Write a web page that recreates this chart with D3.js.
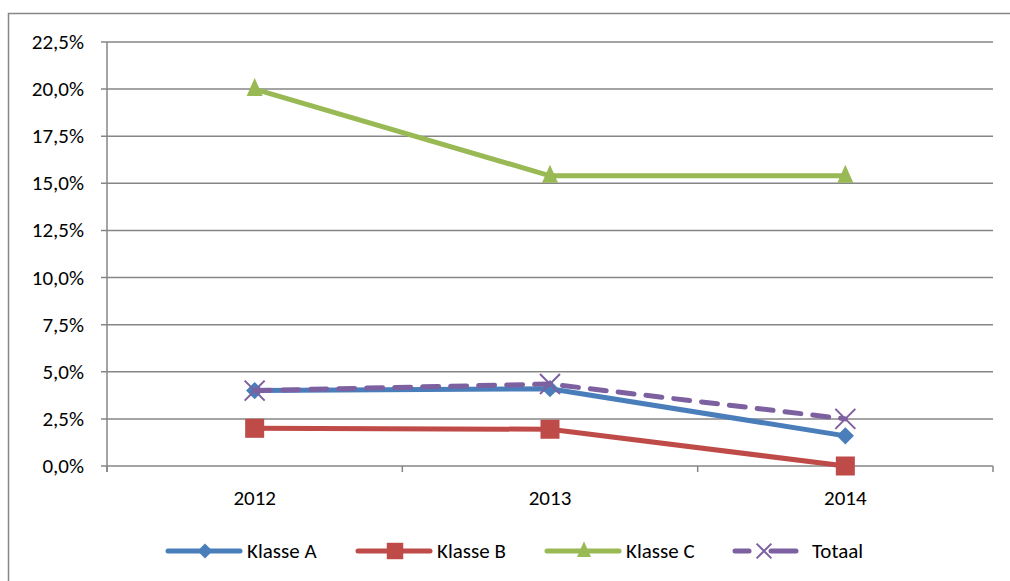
<!DOCTYPE html>
<meta charset="utf-8">
<html>
<head>
<script src="https://cdn.jsdelivr.net/npm/d3@7"></script>
<style>
    body { margin: 0; background: #fff; }
    svg { font-family: Carlito, Calibri, Lato, sans-serif; }
</style>
</head>
<body>
<svg id="chart"></svg>
<script>

var years = ["2012", "2013", "2014"]
var seriesNames = ["Klasse A", "Klasse B", "Klasse C", "Totaal"]
var klasseA = [4.0, 4.1, 1.6]
var klasseB = [2.0, 1.95, 0.0]
var klasseC = [20.0, 15.4, 15.4]
var totaal = [4.0, 4.35, 2.5]
var yTicks = [0, 2.5, 5, 7.5, 10, 12.5, 15, 17.5, 20, 22.5]

var width = 1010
var height = 581
var svg = d3.select("#chart").attr("width", width).attr("height", height)

// outer frame (runs off right and bottom)
svg.append("rect")
    .attr("x", 8.5).attr("y", 13.5)
    .attr("width", 1010).attr("height", 600)
    .attr("fill", "none").attr("stroke", "#868686").attr("stroke-width", 1.5)

var plotLeft = 107, plotRight = 993, plotTop = 42, plotBottom = 466
var fontSize = "21px"

var x = d3.scaleBand().domain(years).range([plotLeft, plotRight])
var y = d3.scaleLinear().domain([0, 22.5]).range([plotBottom, plotTop])
var fmt = d => d3.format(".1f")(d).replace(".", ",") + "%"

// gridlines
svg.append("g")
    .selectAll("line")
    .data(yTicks)
    .enter()
    .append("line")
    .attr("x1", plotLeft - 6).attr("x2", plotRight)
    .attr("y1", d => y(d)).attr("y2", d => y(d))
    .attr("stroke", "#868686").attr("stroke-width", 1.5)

// y labels
svg.append("g")
    .selectAll("text")
    .data(yTicks)
    .enter()
    .append("text")
    .attr("x", plotLeft - 23)
    .attr("y", d => y(d) + 7)
    .attr("text-anchor", "end")
    .attr("font-size", fontSize)
    .attr("fill", "#000")
    .text(fmt)

// axis lines
svg.append("line")
    .attr("x1", plotLeft).attr("x2", plotLeft).attr("y1", plotTop).attr("y2", plotBottom + 6)
    .attr("stroke", "#868686").attr("stroke-width", 1.5)

var xTickPos = years.map(d => x(d)).concat([plotRight])
svg.append("g")
    .selectAll("line")
    .data(xTickPos)
    .enter()
    .append("line")
    .attr("x1", d => d).attr("x2", d => d)
    .attr("y1", plotBottom).attr("y2", plotBottom + 6)
    .attr("stroke", "#868686").attr("stroke-width", 1.5)

svg.append("g")
    .selectAll("text")
    .data(years)
    .enter()
    .append("text")
    .attr("x", d => x(d) + x.bandwidth() / 2)
    .attr("y", plotBottom + 39)
    .attr("text-anchor", "middle")
    .attr("font-size", fontSize)
    .text(d => d)

var series = [
    {name: seriesNames[0], values: klasseA, color: "#4a7ebb", marker: "diamond", dash: null},
    {name: seriesNames[1], values: klasseB, color: "#be4b48", marker: "square", dash: null},
    {name: seriesNames[2], values: klasseC, color: "#98b954", marker: "triangle", dash: null},
    {name: seriesNames[3], values: totaal, color: "#7d60a0", marker: "x", dash: "16,12"}
]

function drawMarker(g, kind, cx, cy, color, scale) {
    scale = scale || 1
    if (kind == "diamond") {
        g.append("path")
            .attr("d", d3.symbol().type(d3.symbolDiamond2).size(190 * scale)())
            .attr("transform", "translate(" + cx + "," + cy + ")")
            .attr("fill", color)
    } else if (kind == "square") {
        var s = 19 * Math.sqrt(scale)
        g.append("rect")
            .attr("x", cx - s / 2).attr("y", cy - s / 2)
            .attr("width", s).attr("height", s)
            .attr("fill", color)
    } else if (kind == "triangle") {
        var h = 18 * Math.sqrt(scale), w = 16 * Math.sqrt(scale)
        g.append("path")
            .attr("d", "M" + cx + "," + (cy - h * 0.62) + "L" + (cx + w / 2) + "," + (cy + h * 0.38) +
                "L" + (cx - w / 2) + "," + (cy + h * 0.38) + "Z")
            .attr("fill", color)
    } else {
        var r = 10 * Math.sqrt(scale)
        g.append("path")
            .attr("d", "M" + (cx - r) + "," + (cy - r) + "L" + (cx + r) + "," + (cy + r) +
                "M" + (cx - r) + "," + (cy + r) + "L" + (cx + r) + "," + (cy - r))
            .attr("stroke", color).attr("stroke-width", 2).attr("fill", "none")
    }
}

var line = d3.line()
    .x((d, i) => x(years[i]) + x.bandwidth() / 2)
    .y(d => y(d))

series.forEach(function(s) {
    var g = svg.append("g")
    g.append("path")
        .attr("d", line(s.values))
        .attr("fill", "none")
        .attr("stroke", s.color)
        .attr("stroke-width", 5)
        .attr("stroke-linecap", "round")
        .attr("stroke-dasharray", s.dash)
    s.values.forEach(function(v, i) {
        drawMarker(g, s.marker, x(years[i]) + x.bandwidth() / 2, y(v), s.color)
    })
})

// legend
var legendX = [168, 358, 547, 733]
var legendY = 551
series.forEach(function(s, i) {
    var g = svg.append("g")
    var x0 = legendX[i]
    if (s.dash) {
        g.append("line").attr("x1", x0 + 2).attr("x2", x0 + 16).attr("y1", legendY).attr("y2", legendY)
            .attr("stroke", s.color).attr("stroke-width", 5).attr("stroke-linecap", "round")
        g.append("line").attr("x1", x0 + 38).attr("x2", x0 + 63).attr("y1", legendY).attr("y2", legendY)
            .attr("stroke", s.color).attr("stroke-width", 5).attr("stroke-linecap", "round")
        drawMarker(g, s.marker, x0 + 31, legendY, s.color, 0.55)
        g.append("text").attr("x", x0 + 79).attr("y", legendY + 7)
            .attr("font-size", fontSize).text(s.name)
    } else {
        g.append("line").attr("x1", x0).attr("x2", x0 + 72).attr("y1", legendY).attr("y2", legendY)
            .attr("stroke", s.color).attr("stroke-width", 5).attr("stroke-linecap", "round")
        drawMarker(g, s.marker, x0 + 37, legendY, s.color, 0.75)
        g.append("text").attr("x", x0 + 79).attr("y", legendY + 7)
            .attr("font-size", fontSize).text(s.name)
    }
})
</script>
</body>
</html>
